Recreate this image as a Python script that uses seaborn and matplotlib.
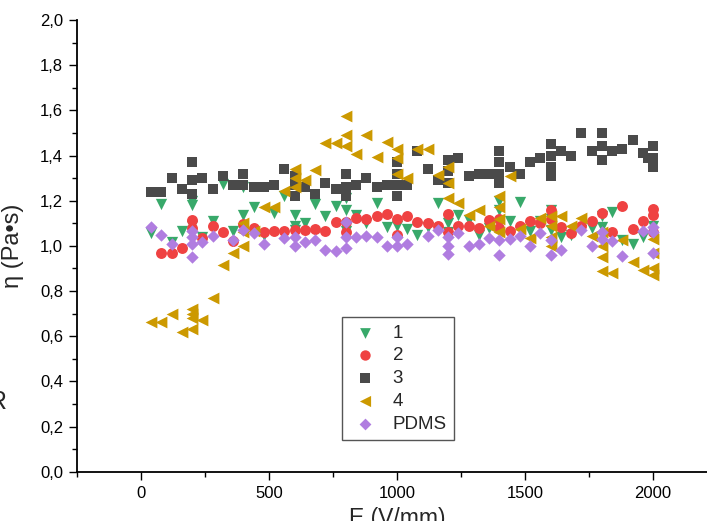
import matplotlib
matplotlib.use("Agg")
import matplotlib.pyplot as plt
from matplotlib.ticker import MultipleLocator, FuncFormatter
import seaborn as sns

# Viscosity vs. electric field for four samples and pure PDMS
x1 = [40, 80, 120, 160, 200, 200, 200, 240, 280, 320, 360, 400, 400, 440, 480, 520, 560,
      600, 600, 600, 640, 680, 720, 760, 800, 800, 800, 840, 880, 920, 960, 1000,
      1040, 1080, 1120, 1160, 1200, 1200, 1240, 1280, 1320, 1360, 1400, 1400,
      1440, 1480, 1520, 1560, 1600, 1600, 1600, 1640, 1680, 1720, 1760, 1800, 1800,
      1840, 1880, 1920, 1960, 2000]
y1 = [1.055, 1.185, 1.015, 1.065, 1.20, 1.18, 1.09, 1.04, 1.11, 1.275, 1.065, 1.26, 1.135,
      1.17, 1.05, 1.145, 1.22, 1.135, 1.09, 1.07, 1.10, 1.185, 1.13, 1.175, 1.21, 1.16, 1.065,
      1.135, 1.10, 1.19, 1.085, 1.09, 1.075, 1.05, 1.085, 1.19, 1.10, 1.06, 1.135, 1.115,
      1.05, 1.08, 1.20, 1.16, 1.11, 1.195, 1.065, 1.11, 1.16, 1.12, 1.07, 1.04, 1.05, 1.07,
      1.08, 1.13, 1.085, 1.15, 1.025, 1.01, 1.04, 1.09]

x2 = [80, 120, 160, 200, 200, 240, 280, 320, 360, 400, 440, 480, 520, 560, 600, 640, 680,
      720, 760, 800, 800, 840, 880, 920, 960, 1000, 1000, 1040, 1080, 1120, 1160, 1200,
      1200, 1240, 1280, 1320, 1360, 1400, 1400, 1440, 1480, 1520, 1560, 1600, 1600, 1640,
      1680, 1720, 1760, 1800, 1840, 1880, 1920, 1960, 2000, 2000, 2000]
y2 = [0.97, 0.97, 0.99, 1.115, 1.08, 1.035, 1.09, 1.06, 1.02, 1.095, 1.08, 1.06, 1.065,
      1.065, 1.07, 1.07, 1.075, 1.065, 1.105, 1.105, 1.06, 1.125, 1.12, 1.13, 1.14, 1.12,
      1.05, 1.13, 1.105, 1.10, 1.09, 1.14, 1.06, 1.09, 1.09, 1.08, 1.115, 1.12, 1.08, 1.065,
      1.09, 1.11, 1.10, 1.16, 1.12, 1.085, 1.055, 1.09, 1.11, 1.145, 1.06, 1.175, 1.075,
      1.11, 1.165, 1.135, 1.06]

x3 = [40, 80, 120, 160, 200, 200, 200, 240, 280, 320, 360, 400, 400, 440, 480, 520, 560,
      600, 600, 600, 640, 680, 720, 760, 800, 800, 800, 840, 880, 920, 960, 1000, 1000,
      1000, 1000, 1040, 1080, 1120, 1160, 1200, 1200, 1200, 1240, 1280, 1320, 1360, 1400,
      1400, 1400, 1400, 1440, 1480, 1520, 1560, 1600, 1600, 1600, 1600, 1640, 1680, 1720,
      1760, 1800, 1800, 1800, 1840, 1880, 1920, 1960, 1980, 2000, 2000, 2000]
y3 = [1.24, 1.24, 1.30, 1.25, 1.37, 1.29, 1.23, 1.30, 1.25, 1.31, 1.27, 1.32, 1.27, 1.26,
      1.26, 1.27, 1.34, 1.31, 1.27, 1.22, 1.26, 1.23, 1.28, 1.25, 1.32, 1.26, 1.22, 1.27,
      1.30, 1.26, 1.27, 1.37, 1.32, 1.27, 1.22, 1.27, 1.42, 1.34, 1.29, 1.38, 1.33, 1.28,
      1.39, 1.31, 1.32, 1.32, 1.42, 1.37, 1.32, 1.28, 1.35, 1.32, 1.37, 1.39, 1.45, 1.40,
      1.35, 1.31, 1.42, 1.40, 1.50, 1.42, 1.50, 1.44, 1.38, 1.42, 1.43, 1.47, 1.41, 1.39,
      1.44, 1.39, 1.35]

x4 = [40, 80, 120, 160, 200, 200, 200, 200, 240, 280, 320, 360, 400, 400, 400, 440, 480,
      520, 560, 600, 600, 600, 640, 680, 720, 760, 800, 800, 800, 840, 880, 920, 960, 1000,
      1000, 1000, 1040, 1080, 1120, 1160, 1200, 1200, 1200, 1240, 1280, 1320, 1360, 1400,
      1400, 1400, 1400, 1440, 1480, 1520, 1560, 1600, 1600, 1600, 1600, 1640, 1680, 1720,
      1760, 1800, 1800, 1800, 1800, 1840, 1880, 1920, 1960, 2000, 2000, 2000, 2000]
y4 = [0.665, 0.665, 0.70, 0.62, 0.72, 0.70, 0.68, 0.63, 0.67, 0.77, 0.915, 0.97, 1.10, 1.06,
      1.0, 1.065, 1.17, 1.17, 1.245, 1.34, 1.30, 1.26, 1.29, 1.335, 1.455, 1.455, 1.575,
      1.49, 1.44, 1.405, 1.49, 1.395, 1.46, 1.43, 1.39, 1.32, 1.30, 1.43, 1.43, 1.315, 1.35,
      1.28, 1.21, 1.19, 1.135, 1.16, 1.09, 1.22, 1.17, 1.12, 1.06, 1.31, 1.075, 1.035,
      1.125, 1.13, 1.09, 1.04, 1.0, 1.13, 1.09, 1.125, 1.045, 1.06, 1.0, 0.95, 0.89, 0.88,
      1.025, 0.93, 0.895, 1.03, 0.97, 0.90, 0.87]

x_pdms = [40, 80, 120, 200, 200, 200, 200, 240, 280, 360, 400, 440, 480, 560, 600, 600,
          640, 680, 720, 760, 800, 800, 800, 840, 880, 920, 960, 1000, 1000, 1040, 1120,
          1160, 1200, 1200, 1200, 1240, 1280, 1320, 1360, 1400, 1400, 1440, 1480, 1520,
          1560, 1600, 1600, 1640, 1720, 1760, 1800, 1800, 1840, 1880, 1960, 2000, 2000, 2000]
y_pdms = [1.085, 1.05, 1.01, 1.065, 1.04, 1.01, 0.95, 1.015, 1.045, 1.025, 1.07, 1.055,
          1.01, 1.035, 1.04, 1.0, 1.015, 1.025, 0.98, 0.975, 1.105, 1.04, 0.99, 1.04, 1.045,
          1.04, 1.0, 1.04, 1.0, 1.01, 1.045, 1.07, 1.04, 1.0, 0.965, 1.055, 1.0, 1.01, 1.035,
          1.025, 0.96, 1.03, 1.045, 1.0, 1.055, 1.025, 0.96, 0.98, 1.07, 1.0, 1.06, 1.03,
          1.02, 0.955, 1.065, 1.085, 1.06, 0.97]

labels = ["1", "2", "3", "4", "PDMS"]
x_ticks = [0, 500, 1000, 1500, 2000]
y_ticks = [0.0, 0.2, 0.4, 0.6, 0.8, 1.0, 1.2, 1.4, 1.6, 1.8, 2.0]

sns.set_style("ticks")
plt.rcParams["font.family"] = ["Liberation Sans", "DejaVu Sans"]
plt.rcParams["font.size"] = 12

fig = plt.figure(figsize=(7.07, 5.21), dpi=100)
ax = fig.add_axes([77 / 707, 49.3 / 521, 640 / 707, 451.7 / 521])

series = [
    (x1, y1, "v", "#38a96a", 66),
    (x2, y2, "o", "#ef4242", 62),
    (x3, y3, "s", "#4a4a4a", 52),
    (x4, y4, "<", "#cc9900", 72),
    (x_pdms, y_pdms, "D", "#b07de0", 40),
]
for (xs, ys, mk, col, size), lab in zip(series, labels):
    sns.scatterplot(x=xs, y=ys, ax=ax, marker=mk, color=col, s=size,
                    linewidth=0, label=lab, zorder=3)

ax.set_xlim(-250, 2250)
ax.set_ylim(0, 2.0)
ax.set_xticks(x_ticks)
ax.set_yticks(y_ticks)
ax.xaxis.set_minor_locator(MultipleLocator(250))
ax.yaxis.set_minor_locator(MultipleLocator(0.1))
ax.yaxis.set_major_formatter(FuncFormatter(lambda v, p: f"{v:.1f}".replace(".", ",")))
ax.xaxis.set_major_formatter(FuncFormatter(lambda v, p: f"{int(round(v))}"))

for s in ["top", "right"]:
    ax.spines[s].set_visible(False)
for s in ["left", "bottom"]:
    ax.spines[s].set_linewidth(1.3)
    ax.spines[s].set_color("black")

ax.tick_params(which="major", direction="out", length=6, width=1, labelsize=12,
               colors="black", pad=4)
ax.tick_params(which="minor", direction="out", length=3.5, width=1, colors="black")

ax.set_xlabel("E (V/mm)", fontsize=16.5)
ax.set_ylabel("η (Pa•s)", fontsize=17)
ax.xaxis.set_label_coords(0.5, -0.078)
ax.yaxis.set_label_coords(-0.083, 0.5)

leg = ax.legend(loc="upper left", bbox_to_anchor=(342 / 707, 1 - 317 / 521),
                bbox_transform=fig.transFigure, borderaxespad=0, fontsize=13.5,
                frameon=True, fancybox=False, labelspacing=0.3, borderpad=0.4,
                handlelength=1.7, handletextpad=0.6, markerscale=0.95)
leg.get_frame().set_edgecolor("#555555")
leg.get_frame().set_linewidth(1.0)
leg.get_frame().set_alpha(1)

fig.text(7 / 707, 1 - 402 / 521, "R", ha="right", va="center", fontsize=18)

fig.savefig("out.png", dpi=100)
